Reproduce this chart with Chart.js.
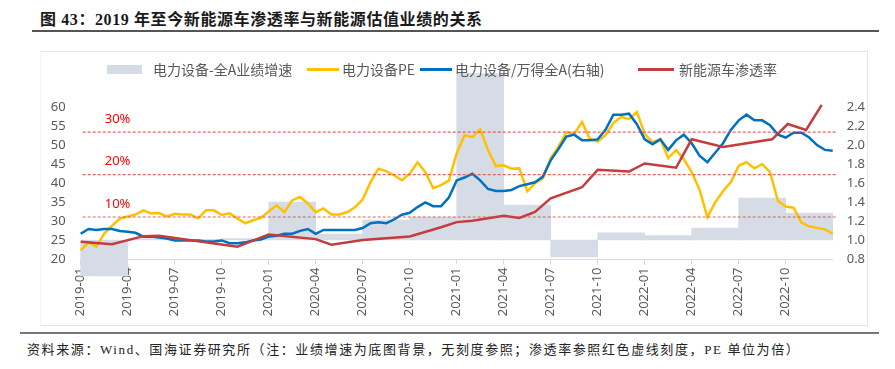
<!DOCTYPE html>
<html>
<head>
<meta charset="utf-8">
<script src="https://cdn.jsdelivr.net/npm/chart.js@4.4.0/dist/chart.umd.min.js"></script>
<style>
  body { margin: 0; width: 895px; height: 369px; background: #fff; position: relative; overflow: hidden;
         font-family: "Noto Sans CJK SC", "Noto Sans", sans-serif; }
  #title { position: absolute; left: 40px; top: 6px; font: bold 16px "Liberation Serif", "Noto Sans CJK SC", serif;
           color: #1a1a1a; letter-spacing: 0.6px; white-space: nowrap; }
  #titleRule { position: absolute; left: 32px; top: 30px; width: 847px; height: 2px; background: #555; }
  #frame { position: absolute; left: 40px; top: 51px; width: 826px; height: 273px; border: 1px solid #e6e6e6; border-left-color: #f4f4f4; }
  #chart { position: absolute; left: 40px; top: 51px; }
  .lg { position: absolute; top: 60px; font-size: 14px; color: #595959; white-space: nowrap; line-height: 18px; }
  .sw { position: absolute; }
  #footRule { position: absolute; left: 20px; top: 332px; width: 859px; height: 2px; background: #777; }
  #source { position: absolute; left: 27px; top: 339px; font: 13px "Liberation Serif", "Noto Sans CJK SC", serif;
            color: #222; letter-spacing: 1.6px; white-space: nowrap; }
</style>
</head>
<body>
<div id="title">图 43：2019 年至今新能源车渗透率与新能源估值业绩的关系</div>
<div id="titleRule"></div>
<div id="frame"></div>
<canvas id="chart" width="845" height="274"></canvas>

<div class="sw" style="left:107px;top:64.5px;width:35px;height:9px;background:#D6DCE5"></div>
<div class="lg" style="left:153px">电力设备-全A业绩增速</div>
<div class="sw" style="left:307px;top:68px;width:32px;height:2.5px;background:#FFC000"></div>
<div class="lg" style="left:342px">电力设备PE</div>
<div class="sw" style="left:420px;top:68px;width:32px;height:2.5px;background:#0070C0"></div>
<div class="lg" style="left:455px">电力设备/万得全A(右轴)</div>
<div class="sw" style="left:638px;top:68px;width:36px;height:2.5px;background:#C43C3E"></div>
<div class="lg" style="left:679px">新能源车渗透率</div>

<div id="footRule"></div>
<div id="source">资料来源：Wind、国海证券研究所（注：业绩增速为底图背景，无刻度参照；渗透率参照红色虚线刻度，PE 单位为倍）</div>

<script>
// x axis: quarter ticks
const tickLabels = ['2019-01', '2019-04', '2019-07', '2019-10', '2020-01', '2020-04', '2020-07', '2020-10',
                    '2021-01', '2021-04', '2021-07', '2021-10', '2022-01', '2022-04', '2022-07', '2022-10'];

// half-month sample dates for PE and relative valuation
const dates = [
  '2019-01-01', '2019-01-16', '2019-02-01', '2019-02-16', '2019-03-01', '2019-03-16', '2019-04-01', '2019-04-16',
  '2019-05-01', '2019-05-16', '2019-06-01', '2019-06-16', '2019-07-01', '2019-07-16', '2019-08-01', '2019-08-16',
  '2019-09-01', '2019-09-16', '2019-10-01', '2019-10-16', '2019-11-01', '2019-11-16', '2019-12-01', '2019-12-16',
  '2020-01-01', '2020-01-16', '2020-02-01', '2020-02-16', '2020-03-01', '2020-03-16', '2020-04-01', '2020-04-16',
  '2020-05-01', '2020-05-16', '2020-06-01', '2020-06-16', '2020-07-01', '2020-07-16', '2020-08-01', '2020-08-16',
  '2020-09-01', '2020-09-16', '2020-10-01', '2020-10-16', '2020-11-01', '2020-11-16', '2020-12-01', '2020-12-16',
  '2021-01-01', '2021-01-16', '2021-02-01', '2021-02-16', '2021-03-01', '2021-03-16', '2021-04-01', '2021-04-16',
  '2021-05-01', '2021-05-16', '2021-06-01', '2021-06-16', '2021-07-01', '2021-07-16', '2021-08-01', '2021-08-16',
  '2021-09-01', '2021-09-16', '2021-10-01', '2021-10-16', '2021-11-01', '2021-11-16', '2021-12-01', '2021-12-16',
  '2022-01-01', '2022-01-16', '2022-02-01', '2022-02-16', '2022-03-01', '2022-03-16', '2022-04-01', '2022-04-16',
  '2022-05-01', '2022-05-16', '2022-06-01', '2022-06-16', '2022-07-01', '2022-07-16', '2022-08-01', '2022-08-16',
  '2022-09-01', '2022-09-16', '2022-10-01', '2022-10-16', '2022-11-01', '2022-11-16', '2022-12-01', '2022-12-16',
  '2022-12-31'
];

// 电力设备PE (left axis)
const pe = [
  22.4, 24.5, 23.4, 26.8, 28.9, 30.7, 31.3, 31.8, 32.9, 32.1,
  32.2, 31.3, 32.0, 31.8, 31.8, 30.8, 32.9, 32.9, 31.7, 32.1,
  30.8, 29.5, 30.3, 30.9, 32.6, 34.2, 32.4, 35.5, 36.4, 34.7,
  32.4, 33.4, 31.8, 31.8, 32.4, 33.7, 35.8, 40.3, 43.8, 43.2,
  42.1, 40.8, 42.5, 45.5, 42.9, 38.7, 39.5, 40.7, 47.8, 52.6,
  52.1, 54.1, 48.7, 44.5, 44.7, 43.8, 43.9, 37.9, 40.0, 41.3,
  46.6, 49.6, 53.4, 52.9, 56.1, 51.6, 50.9, 52.6, 55.8, 57.4,
  56.8, 58.7, 52.9, 50.8, 51.6, 46.6, 48.7, 46.3, 42.9, 38.3,
  31.1, 35.0, 37.9, 40.3, 44.6, 45.5, 43.9, 45.0, 42.9, 35.4,
  33.9, 33.6, 29.7, 28.7, 28.3, 27.9, 26.8
];

// 电力设备/万得全A (right axis)
const relVal = [
  1.07, 1.12, 1.11, 1.12, 1.12, 1.10, 1.09, 1.08, 1.04, 1.04,
  1.03, 1.02, 1.00, 1.00, 1.00, 1.00, 0.99, 0.99, 1.00, 0.97,
  0.97, 0.98, 1.00, 1.01, 1.04, 1.05, 1.07, 1.07, 1.10, 1.12,
  1.07, 1.11, 1.11, 1.11, 1.11, 1.11, 1.13, 1.18, 1.19, 1.18,
  1.22, 1.27, 1.29, 1.35, 1.40, 1.36, 1.36, 1.45, 1.63, 1.66,
  1.70, 1.63, 1.54, 1.52, 1.52, 1.53, 1.57, 1.59, 1.61, 1.67,
  1.84, 1.96, 2.09, 2.11, 2.05, 2.05, 2.06, 2.16, 2.32, 2.32,
  2.33, 2.22, 2.06, 2.01, 2.06, 1.95, 2.05, 2.11, 2.02, 1.89,
  1.82, 1.92, 2.02, 2.16, 2.26, 2.32, 2.26, 2.26, 2.21, 2.11,
  2.08, 2.13, 2.13, 2.08, 2.00, 1.95, 1.94
];

// 新能源车渗透率 (%), hidden scale read against the dashed 10/20/30% guides
const penDates = [
  '2019-01-01', '2019-03-01', '2019-05-01', '2019-06-01', '2019-11-01', '2020-01-01', '2020-04-01',
  '2020-05-01', '2020-07-01', '2020-10-01', '2020-12-01', '2021-01-01', '2021-02-01', '2021-04-01',
  '2021-05-01', '2021-06-01', '2021-07-01', '2021-09-01', '2021-10-01', '2021-12-01', '2022-01-01',
  '2022-03-01', '2022-04-01', '2022-06-01', '2022-09-05', '2022-10-05', '2022-11-10', '2022-12-10'
];
const penRate = [
  4.2, 3.6, 5.5, 5.6, 3.0, 5.9, 4.8,
  3.5, 4.6, 5.4, 7.6, 8.8, 9.1, 10.3,
  9.8, 11.2, 14.4, 17.0, 21.1, 20.7, 22.6,
  21.6, 28.3, 26.5, 28.3, 31.9, 30.5, 36.4
];

// 电力设备-全A业绩增速 (background, no scale shown)
const quarters = ['2019-01', '2019-04', '2019-07', '2019-10', '2020-01', '2020-04', '2020-07', '2020-10',
                  '2021-01', '2021-04', '2021-07', '2021-10', '2022-01', '2022-04', '2022-07', '2022-10'];
const growth = [-24, 1, 0.5, 1, 25.3, 4, 13.3, 15.3, 111, 23.3, -11.3, 4.7, 2.9, 8, 28, 18];

// dashed penetration guides
const refLevels = [10, 20, 30];
const refLabels = ['10%', '20%', '30%'];

// months since 2019-01
function monthPos(d) {
    const parts = d.split('-').map(Number);
    const day = parts[2] || 1;
    return (parts[0] - 2019) * 12 + (parts[1] - 1) + (day - 1) / 30;
}

const tickFont = { family: 'Noto Sans', size: 13 };
const tickColor = '#595959';

const refLines = {
    id: 'refLines',
    afterDatasetsDraw(chart) {
        const ctx = chart.ctx;
        const area = chart.chartArea;
        const yP = chart.scales.yP;
        ctx.save();
        refLevels.forEach(function (lv, i) {
            const y = yP.getPixelForValue(lv);
            ctx.strokeStyle = 'rgba(228, 70, 70, 0.85)';
            ctx.lineWidth = 1.2;
            ctx.setLineDash([3, 2]);
            ctx.beginPath();
            ctx.moveTo(area.left + 2, y);
            ctx.lineTo(area.right + 4, y);
            ctx.stroke();
            ctx.setLineDash([]);
            ctx.fillStyle = '#FF0000';
            ctx.font = '13px "Noto Sans"';
            ctx.textBaseline = 'middle';
            ctx.textAlign = 'left';
            ctx.fillText(refLabels[i], area.left + 24, y - 13);
        });
        ctx.restore();
    }
};

new Chart(document.getElementById('chart'), {
    type: 'line',
    data: {
        datasets: [
            {
                type: 'bar',
                label: '电力设备-全A业绩增速',
                data: quarters.map((q, i) => ({ x: monthPos(q) + 1.5, y: growth[i] })),
                backgroundColor: '#D6DCE5',
                yAxisID: 'yG',
                barPercentage: 1,
                categoryPercentage: 1,
                clip: false,
                order: 4
            },
            {
                label: '电力设备PE',
                data: dates.map((d, i) => ({ x: monthPos(d), y: pe[i] })),
                borderColor: '#FFC000',
                yAxisID: 'y',
                clip: false,
                order: 3
            },
            {
                label: '电力设备/万得全A(右轴)',
                data: dates.map((d, i) => ({ x: monthPos(d), y: relVal[i] })),
                borderColor: '#0070C0',
                yAxisID: 'y1',
                clip: false,
                order: 2
            },
            {
                label: '新能源车渗透率',
                data: penDates.map((d, i) => ({ x: monthPos(d), y: penRate[i] })),
                borderColor: '#C43C3E',
                yAxisID: 'yP',
                clip: false,
                order: 1
            }
        ]
    },
    options: {
        responsive: false,
        animation: false,
        layout: { padding: { top: 56, left: 0, right: 0, bottom: 0 } },
        elements: {
            line: { borderWidth: 2.5, tension: 0, fill: false },
            point: { radius: 0 }
        },
        plugins: { legend: { display: false }, tooltip: { enabled: false } },
        scales: {
            x: {
                type: 'linear',
                min: 0,
                max: 48,
                offset: false,
                z: 1,
                grid: { drawOnChartArea: false, offset: false, tickLength: 5, color: '#D9D9D9' },
                border: { color: '#D9D9D9' },
                afterBuildTicks: function (s) {
                    s.ticks = tickLabels.map(t => ({ value: monthPos(t) }));
                },
                afterFit: function (s) { s.height = 65.5; },
                ticks: {
                    autoSkip: false,
                    minRotation: 90,
                    maxRotation: 90,
                    padding: 3,
                    color: tickColor,
                    font: tickFont,
                    callback: (v, i) => tickLabels[i]
                }
            },
            y: {
                position: 'left',
                min: 20,
                max: 60,
                grid: { display: false, drawTicks: false },
                border: { display: false },
                afterFit: function (s) { s.width = 40.7; },
                ticks: { stepSize: 5, padding: 15, color: tickColor, font: tickFont }
            },
            y1: {
                position: 'right',
                min: 0.8,
                max: 2.4,
                grid: { display: false, drawTicks: false },
                border: { display: false },
                afterFit: function (s) { s.width = 52.3; },
                ticks: { stepSize: 0.2, padding: 14, color: tickColor, font: tickFont,
                         callback: v => v.toFixed(1) }
            },
            yG: { display: false, min: -13, max: 88.67 },
            yP: { display: false, min: 0, max: 35.9 }
        }
    },
    plugins: [refLines]
});
</script>
</body>
</html>
